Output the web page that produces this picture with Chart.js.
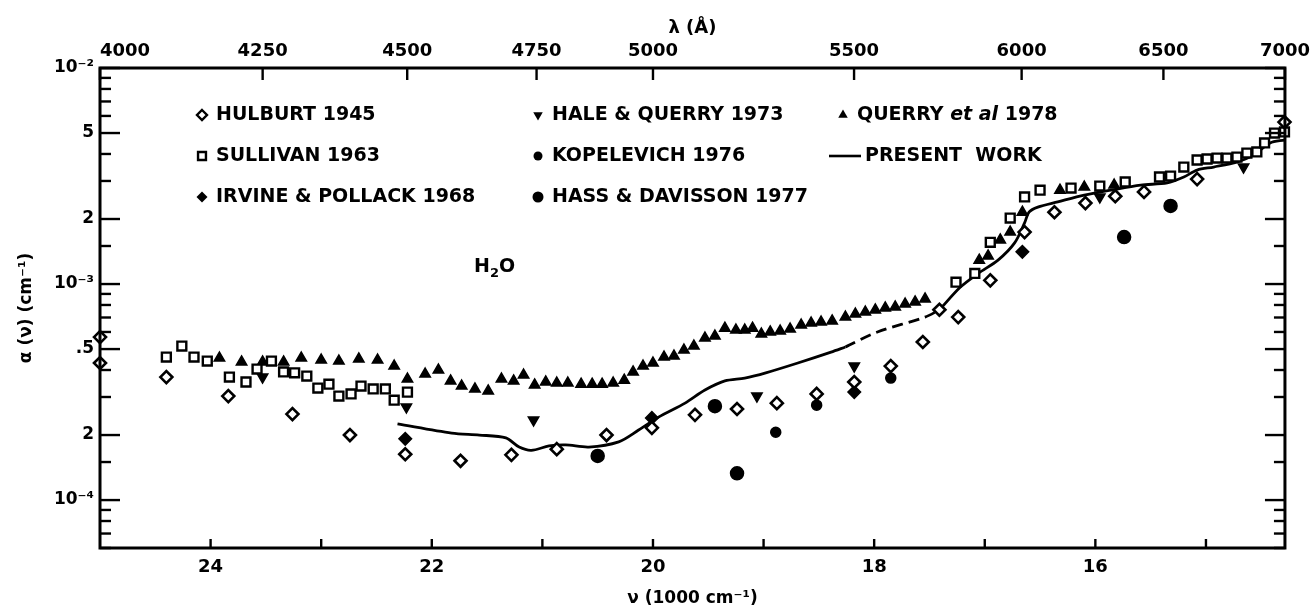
<!DOCTYPE html>
<html>
<head>
<meta charset="utf-8">
<title>Absorption coefficient of water</title>
<script src="https://cdn.jsdelivr.net/npm/chart.js@4.4.1/dist/chart.umd.min.js"></script>
<style>
html,body{margin:0;padding:0;background:#fff;overflow:hidden;}
canvas{display:block;}
</style>
</head>
<body>
<canvas id="chart" width="1316" height="609"></canvas>
<script>
// ---------------- axis definitions ----------------
const NU_LEFT = 25;            // 1000 cm^-1  (4000 A)
const NU_RIGHT = 100 / 7;      // 1000 cm^-1  (7000 A)
const ALPHA_MIN = 6e-5;
const ALPHA_MAX = 1e-2;
const bottomLabelNu = [24, 22, 20, 18, 16];
const bottomTickNu = [15, 16, 17, 18, 19, 20, 21, 22, 23, 24];
const lambdaTicks = [4000, 4250, 4500, 4750, 5000, 5500, 6000, 6500, 7000];
const yTickValues = [1e-4, 2e-4, 5e-4, 1e-3, 2e-3, 5e-3, 1e-2];
const yTickLabels = ['10\u207B\u2074', '2', '.5', '10\u207B\u00B3', '2', '5', '10\u207B\u00B2'];
const minorMantissas = [1, 1.5, 2, 3, 4, 5, 6, 7, 8, 9];
const majorMantissas = [1, 2, 5];

// ---------------- data (nu in 1000 cm^-1, alpha in cm^-1) ----------------
const hulburtNu = [25.0, 25.0, 24.40, 23.84, 23.26, 22.74, 22.24, 21.74, 21.28, 20.87, 20.42, 20.01, 19.62, 19.24, 18.88, 18.52, 18.18, 17.85, 17.56, 17.41, 17.24, 16.95, 16.64, 16.37, 16.09, 15.82, 15.56, 15.08, 14.29];
const hulburtAlpha = [5.68e-4, 4.31e-4, 3.71e-4, 3.03e-4, 2.50e-4, 2.00e-4, 1.63e-4, 1.52e-4, 1.62e-4, 1.72e-4, 2.00e-4, 2.16e-4, 2.48e-4, 2.64e-4, 2.81e-4, 3.10e-4, 3.52e-4, 4.17e-4, 5.39e-4, 7.6e-4, 7.03e-4, 1.04e-3, 1.74e-3, 2.15e-3, 2.37e-3, 2.55e-3, 2.67e-3, 3.06e-3, 5.62e-3];

const sullivanNu = [24.40, 24.26, 24.15, 24.03, 23.83, 23.68, 23.58, 23.45, 23.34, 23.24, 23.13, 23.03, 22.93, 22.84, 22.73, 22.64, 22.53, 22.42, 22.34, 22.22, 17.26, 17.09, 16.95, 16.77, 16.64, 16.50, 16.22, 15.96, 15.73, 15.42, 15.32, 15.20, 15.08, 14.99, 14.90, 14.81, 14.72, 14.63, 14.54, 14.47, 14.38, 14.29];
const sullivanAlpha = [4.59e-4, 5.16e-4, 4.59e-4, 4.40e-4, 3.71e-4, 3.52e-4, 4.04e-4, 4.40e-4, 3.92e-4, 3.88e-4, 3.75e-4, 3.30e-4, 3.44e-4, 3.03e-4, 3.10e-4, 3.37e-4, 3.27e-4, 3.27e-4, 2.90e-4, 3.16e-4, 1.02e-3, 1.12e-3, 1.56e-3, 2.02e-3, 2.53e-3, 2.72e-3, 2.78e-3, 2.84e-3, 2.97e-3, 3.13e-3, 3.16e-3, 3.48e-3, 3.75e-3, 3.79e-3, 3.83e-3, 3.83e-3, 3.87e-3, 4.04e-3, 4.09e-3, 4.50e-3, 5.00e-3, 5.06e-3];

const irvineNu = [22.24, 20.01, 18.18, 16.66];
const irvineAlpha = [1.92e-4, 2.40e-4, 3.16e-4, 1.41e-3];

const haleNu = [23.53, 22.23, 21.08, 19.06, 18.18, 15.96, 14.66];
const haleAlpha = [3.71e-4, 2.70e-4, 2.35e-4, 3.03e-4, 4.17e-4, 2.53e-3, 3.48e-3];

const kopelevichNu = [18.89, 18.52, 17.85];
const kopelevichAlpha = [2.06e-4, 2.75e-4, 3.67e-4];

const hassNu = [20.50, 19.44, 19.24, 15.74, 15.32];
const hassAlpha = [1.60e-4, 2.72e-4, 1.33e-4, 1.65e-3, 2.30e-3];

const querryNu = [23.92, 23.72, 23.53, 23.34, 23.18, 23.00, 22.84, 22.66, 22.49, 22.34,
  22.22, 22.06, 21.94, 21.83, 21.73, 21.61, 21.49, 21.37, 21.26, 21.17,
  21.07, 20.97, 20.87, 20.77, 20.65, 20.55, 20.46, 20.36, 20.26, 20.18,
  20.09, 20.00, 19.90, 19.81, 19.72, 19.63, 19.53, 19.44, 19.35, 19.25,
  19.17, 19.10, 19.02, 18.94, 18.85, 18.76, 18.66, 18.57, 18.48, 18.38,
  18.26, 18.17, 18.08, 17.99, 17.90, 17.81, 17.72, 17.63, 17.54, 17.05,
  16.97, 16.86, 16.77, 16.66, 16.32, 16.10, 15.83];
const querryAlpha = [4.54e-4, 4.36e-4, 4.36e-4, 4.36e-4, 4.54e-4, 4.45e-4, 4.40e-4, 4.50e-4, 4.45e-4, 4.17e-4,
  3.63e-4, 3.83e-4, 4.00e-4, 3.56e-4, 3.37e-4, 3.27e-4, 3.20e-4, 3.63e-4, 3.56e-4, 3.79e-4,
  3.41e-4, 3.52e-4, 3.48e-4, 3.48e-4, 3.44e-4, 3.44e-4, 3.44e-4, 3.48e-4, 3.59e-4, 3.92e-4,
  4.17e-4, 4.31e-4, 4.59e-4, 4.64e-4, 4.95e-4, 5.16e-4, 5.62e-4, 5.74e-4, 6.25e-4, 6.12e-4,
  6.12e-4, 6.25e-4, 5.87e-4, 6.00e-4, 6.06e-4, 6.19e-4, 6.46e-4, 6.60e-4, 6.67e-4, 6.75e-4,
  7.03e-4, 7.26e-4, 7.42e-4, 7.59e-4, 7.75e-4, 7.83e-4, 8.08e-4, 8.26e-4, 8.53e-4, 1.29e-3,
  1.35e-3, 1.60e-3, 1.74e-3, 2.15e-3, 2.72e-3, 2.81e-3, 2.87e-3];

// present work: solid part, dashed bridge, solid part
const presentNu1 = [22.31, 21.82, 21.57, 21.33, 21.21, 21.10, 20.94, 20.79, 20.58, 20.31, 20.13, 19.95, 19.71, 19.53, 19.35, 19.17, 18.98, 18.69, 18.39, 18.26];
const presentAlpha1 = [2.25e-4, 2.04e-4, 2.00e-4, 1.94e-4, 1.76e-4, 1.70e-4, 1.78e-4, 1.80e-4, 1.76e-4, 1.86e-4, 2.11e-4, 2.42e-4, 2.81e-4, 3.23e-4, 3.56e-4, 3.67e-4, 3.88e-4, 4.31e-4, 4.84e-4, 5.11e-4];
const presentNuDash = [18.26, 17.97, 17.54, 17.41];
const presentAlphaDash = [5.11e-4, 6.00e-4, 7.03e-4, 7.59e-4];
const presentNu2 = [17.41, 17.22, 17.06, 16.88, 16.73, 16.64, 16.60, 16.52, 16.34, 16.10, 15.86, 15.59, 15.35, 15.20, 15.08, 14.93, 14.72, 14.57, 14.42, 14.29];
const presentAlpha2 = [7.59e-4, 9.68e-4, 1.12e-3, 1.29e-3, 1.55e-3, 1.92e-3, 2.15e-3, 2.27e-3, 2.40e-3, 2.58e-3, 2.72e-3, 2.87e-3, 2.94e-3, 3.13e-3, 3.37e-3, 3.48e-3, 3.67e-3, 3.95e-3, 4.50e-3, 4.64e-3];

// ---------------- helpers ----------------
const FONT = "'DejaVu Sans', 'Liberation Sans', sans-serif";
Chart.defaults.font.family = FONT;
Chart.defaults.font.weight = 'bold';
Chart.defaults.color = '#000';

function pts(nu, a) { return nu.map((v, i) => ({ x: v, y: a[i] })); }

function drawMarker(ctx, kind, x, y, r) {
  ctx.save();
  ctx.lineWidth = 2.4;
  ctx.strokeStyle = '#000';
  ctx.fillStyle = '#000';
  ctx.beginPath();
  if (kind === 'openDiamond' || kind === 'diamond') {
    ctx.moveTo(x, y - r); ctx.lineTo(x + r, y); ctx.lineTo(x, y + r); ctx.lineTo(x - r, y); ctx.closePath();
  } else if (kind === 'openSquare') {
    const s = r * 0.72; ctx.rect(x - s, y - s, 2 * s, 2 * s);
  } else if (kind === 'triUp' || kind === 'triDown') {
    const sgn = kind === 'triUp' ? 1 : -1;
    ctx.moveTo(x, y - sgn * r);
    ctx.lineTo(x + r * 0.866, y + sgn * r * 0.5);
    ctx.lineTo(x - r * 0.866, y + sgn * r * 0.5);
    ctx.closePath();
  } else {
    ctx.arc(x, y, r, 0, Math.PI * 2);
  }
  if (kind === 'openDiamond' || kind === 'openSquare') {
    ctx.fillStyle = '#fff'; ctx.fill(); ctx.stroke();
  } else { ctx.fill(); }
  ctx.restore();
}

const legendRows = [115, 156, 197];
const legendCols = [202, 538, 843];
const legendItems = [
  { kind: 'openDiamond', r: 5, col: 0, row: 0, parts: [['HULBURT 1945', false]] },
  { kind: 'openSquare', r: 5.5, col: 0, row: 1, parts: [['SULLIVAN 1963', false]] },
  { kind: 'diamond', r: 5.5, col: 0, row: 2, parts: [['IRVINE & POLLACK 1968', false]] },
  { kind: 'triDown', r: 5.5, col: 1, row: 0, parts: [['HALE & QUERRY 1973', false]] },
  { kind: 'circle', r: 4.5, col: 1, row: 1, parts: [['KOPELEVICH 1976', false]] },
  { kind: 'circle', r: 5.5, col: 1, row: 2, parts: [['HASS & DAVISSON 1977', false]] },
  { kind: 'triUp', r: 5.5, col: 2, row: 0, parts: [['QUERRY ', false], ['et al', true], [' 1978', false]] },
  { kind: 'line', r: 0, col: 2, row: 1, parts: [['PRESENT  WORK', false]] }
];

const inkPlugin = {
  id: 'ink',
  beforeDraw(chart) {
    const c = chart.ctx;
    c.save(); c.fillStyle = '#fff'; c.fillRect(0, 0, chart.width, chart.height); c.restore();
  },
  afterDatasetsDraw(chart) {
    const { ctx, chartArea: a, scales } = chart;
    const x = scales.x, y = scales.y;
    ctx.save();
    ctx.strokeStyle = '#000';
    ctx.lineWidth = 2.4;
    const seg = (x1, y1, x2, y2) => { ctx.beginPath(); ctx.moveTo(x1, y1); ctx.lineTo(x2, y2); ctx.stroke(); };
    bottomTickNu.forEach(v => { const px = x.getPixelForValue(v); seg(px, a.bottom, px, a.bottom - 9); });
    lambdaTicks.forEach(l => { const px = x.getPixelForValue(1e5 / l); seg(px, a.top, px, a.top + 12); });
    for (let e = -5; e <= -2; e++) {
      minorMantissas.forEach(m => {
        const v = m * Math.pow(10, e);
        if (v < ALPHA_MIN * 0.999 || v > ALPHA_MAX * 1.001) return;
        const py = y.getPixelForValue(v);
        const len = majorMantissas.includes(m) ? 20 : 11;
        seg(a.left, py, a.left + len, py);
        seg(a.right, py, a.right - len, py);
      });
    }
    ctx.lineWidth = 3;
    ctx.strokeRect(a.left, a.top, a.right - a.left, a.bottom - a.top);

    // legend
    ctx.textBaseline = 'middle';
    legendItems.forEach(it => {
      const cx = legendCols[it.col], cy = legendRows[it.row];
      let tx;
      if (it.kind === 'line') {
        ctx.lineWidth = 2.6;
        seg(cx - 14, cy, cx + 18, cy);
        tx = cx + 22;
      } else {
        drawMarker(ctx, it.kind, cx, cy, it.r);
        tx = cx + 14;
      }
      it.parts.forEach(([t, ital]) => {
        ctx.font = (ital ? 'italic ' : '') + 'bold 19px ' + FONT;
        ctx.fillStyle = '#000';
        ctx.fillText(t, tx, cy);
        tx += ctx.measureText(t).width;
      });
    });

    // H2O label
    ctx.font = 'bold 19px ' + FONT;
    ctx.textBaseline = 'alphabetic';
    let hx = 474;
    ctx.fillText('H', hx, 272); hx += ctx.measureText('H').width;
    ctx.font = 'bold 13px ' + FONT;
    ctx.fillText('2', hx, 277); hx += ctx.measureText('2').width;
    ctx.font = 'bold 19px ' + FONT;
    ctx.fillText('O', hx, 272);
    ctx.restore();
  }
};

const pointDs = (label, nu, a, style) => Object.assign({
  label, data: pts(nu, a), showLine: false, clip: false,
  pointBorderColor: '#000', pointBackgroundColor: '#000', pointBorderWidth: 1, pointHoverRadius: 0
}, style);
const lineDs = (label, nu, a, dash) => ({
  label, data: pts(nu, a), showLine: true, clip: false, pointRadius: 0, pointHoverRadius: 0,
  borderColor: '#000', borderWidth: 2.8, tension: 0.3, borderDash: dash, fill: false
});

new Chart(document.getElementById('chart'), {
  type: 'scatter',
  data: {
    datasets: [
      pointDs('HULBURT 1945', hulburtNu, hulburtAlpha, { pointStyle: 'rectRot', pointRadius: 6, pointBorderWidth: 2.6, pointBackgroundColor: '#fff' }),
      pointDs('SULLIVAN 1963', sullivanNu, sullivanAlpha, { pointStyle: 'rect', pointRadius: 6.3, pointBorderWidth: 2.4, pointBackgroundColor: '#fff' }),
      pointDs('IRVINE & POLLACK 1968', irvineNu, irvineAlpha, { pointStyle: 'rectRot', pointRadius: 6.3, pointBorderWidth: 1.5 }),
      pointDs('HALE & QUERRY 1973', haleNu, haleAlpha, { pointStyle: 'triangle', pointRotation: 180, pointRadius: 6, pointBorderWidth: 1.5 }),
      pointDs('KOPELEVICH 1976', kopelevichNu, kopelevichAlpha, { pointStyle: 'circle', pointRadius: 5, pointBorderWidth: 1.5 }),
      pointDs('HASS & DAVISSON 1977', hassNu, hassAlpha, { pointStyle: 'circle', pointRadius: 6.5, pointBorderWidth: 1.5 }),
      pointDs('QUERRY et al 1978', querryNu, querryAlpha, { pointStyle: 'triangle', pointRadius: 6, pointBorderWidth: 1.5 }),
      lineDs('PRESENT WORK', presentNu1, presentAlpha1, []),
      lineDs('PRESENT WORK (interp.)', presentNuDash, presentAlphaDash, [11, 6]),
      lineDs('PRESENT WORK ', presentNu2, presentAlpha2, [])
    ]
  },
  options: {
    responsive: false,
    animation: false,
    devicePixelRatio: 1,
    events: [],
    layout: { padding: { left: 0, right: 28, top: 0, bottom: 0 } },
    plugins: { legend: { display: false }, tooltip: { enabled: false } },
    scales: {
      x: {
        type: 'linear', position: 'bottom', reverse: true, bounds: 'data',
        min: NU_RIGHT, max: NU_LEFT,
        grid: { display: false, drawTicks: false }, border: { display: false },
        afterBuildTicks: s => { s.ticks = bottomLabelNu.map(v => ({ value: v })); },
        afterFit: s => { s.height = 61; },
        ticks: { autoSkip: false, maxRotation: 0, padding: 9, font: { size: 18, weight: 'bold' },
          callback: v => String(Math.round(v)) },
        title: { display: true, text: '\u03BD (1000 cm\u207B\u00B9)', font: { size: 17, weight: 'bold' }, padding: { top: 9, bottom: 0 } }
      },
      x2: {
        type: 'linear', position: 'top', reverse: true, bounds: 'data',
        min: NU_RIGHT, max: NU_LEFT,
        grid: { display: false, drawTicks: false }, border: { display: false },
        afterBuildTicks: s => { s.ticks = lambdaTicks.map(l => ({ value: 1e5 / l })); },
        afterFit: s => { s.height = 68; },
        ticks: { autoSkip: false, maxRotation: 0, padding: 6, font: { size: 18, weight: 'bold' },
          callback: v => { const l = Math.round(1e5 / v / 50) * 50; return l === 4000 ? '\u2007\u2007\u2007\u2007' + l : String(l); } },
        title: { display: true, text: '\u03BB (\u00C5)', font: { size: 18, weight: 'bold' }, padding: { top: 18, bottom: 0 } }
      },
      y: {
        type: 'logarithmic', position: 'left', bounds: 'data',
        min: ALPHA_MIN, max: ALPHA_MAX,
        grid: { display: false, drawTicks: false }, border: { display: false },
        afterBuildTicks: s => { s.ticks = yTickValues.map(v => ({ value: v })); },
        afterFit: s => { s.width = 100; },
        ticks: { autoSkip: false, padding: 6, font: { size: 17, weight: 'bold' },
          callback: (v, i) => yTickLabels[i] },
        title: { display: true, text: '\u03B1 (\u03BD) (cm\u207B\u00B9)', font: { size: 17, weight: 'bold' }, padding: { top: 16, bottom: 0 } }
      }
    }
  },
  plugins: [inkPlugin]
});
</script>
</body>
</html>
